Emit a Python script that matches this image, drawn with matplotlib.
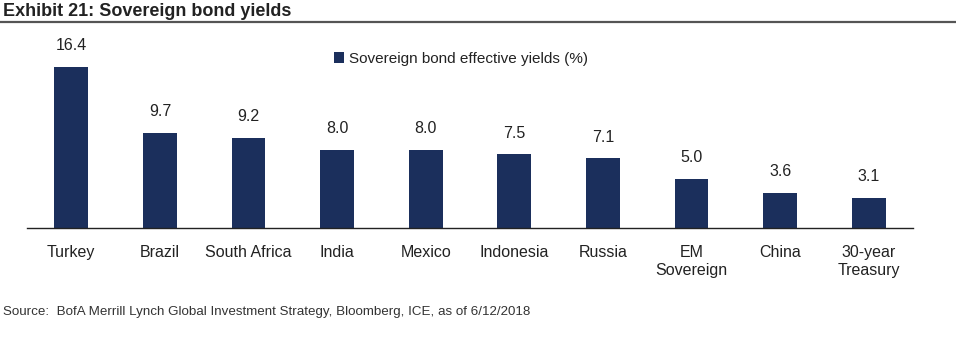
import matplotlib
matplotlib.use("Agg")
import matplotlib.pyplot as plt
from matplotlib.lines import Line2D
from matplotlib.patches import Patch

categories = ["Turkey", "Brazil", "South Africa", "India", "Mexico", "Indonesia",
              "Russia", "EM\nSovereign", "China", "30-year\nTreasury"]
yields = [16.4, 9.7, 9.2, 8.0, 8.0, 7.5, 7.1, 5.0, 3.6, 3.1]
value_labels = ["16.4", "9.7", "9.2", "8.0", "8.0", "7.5", "7.1", "5.0", "3.6", "3.1"]
series_name = "Sovereign bond effective yields (%)"
title = "Exhibit 21: Sovereign bond yields"
source = "Source:  BofA Merrill Lynch Global Investment Strategy, Bloomberg, ICE, as of 6/12/2018"

body = "Liberation Sans"

bar_color = "#1b2f5c"
text_color = "#222222"

fig = plt.figure(figsize=(9.56, 3.4), dpi=100)
ax = fig.add_axes([27/956, 1 - 228/340, (913 - 27)/956, (228 - 40)/340])

x = list(range(len(categories)))
ax.bar(x, yields, width=0.38, color=bar_color, zorder=2)
ax.set_xlim(-0.5, len(categories) - 0.5)
ax.set_ylim(0, 188/9.8)
for xi, v, lab in zip(x, yields, value_labels):
    ax.annotate(lab, (xi, v), xytext=(0, 10), textcoords="offset points",
                ha="center", va="bottom", fontsize=11.5, family=body, color=text_color)

ax.set_xticks(x)
ax.set_xticklabels(categories, fontsize=11.5, family=body, color=text_color, linespacing=1.3)
ax.tick_params(axis="x", length=0, pad=12)
ax.set_yticks([])
for s in ["top", "right", "left"]:
    ax.spines[s].set_visible(False)
ax.spines["bottom"].set_color("#222222")
ax.spines["bottom"].set_linewidth(1.0)

handle = Patch(facecolor=bar_color, edgecolor="none")
fig.legend([handle], [series_name], loc="center left",
           bbox_to_anchor=(320/956, 1 - 59/340), frameon=False,
           handlelength=0.7, handleheight=0.7, handletextpad=0.3,
           prop={"family": body, "size": 11}, labelcolor=text_color)

fig.text(3/956, 1 - 12/340, title, fontsize=13, fontweight="bold",
         family=body, color="#222222", ha="left", va="center")
fig.add_artist(Line2D([0, 1], [1 - 22/340, 1 - 22/340], transform=fig.transFigure,
                      color="#555555", linewidth=1.6))
fig.text(3/956, 1 - 312/340, source, fontsize=9.6, family=body,
         color="#333333", ha="left", va="center")

fig.savefig("out.png", dpi=100, facecolor="white")
